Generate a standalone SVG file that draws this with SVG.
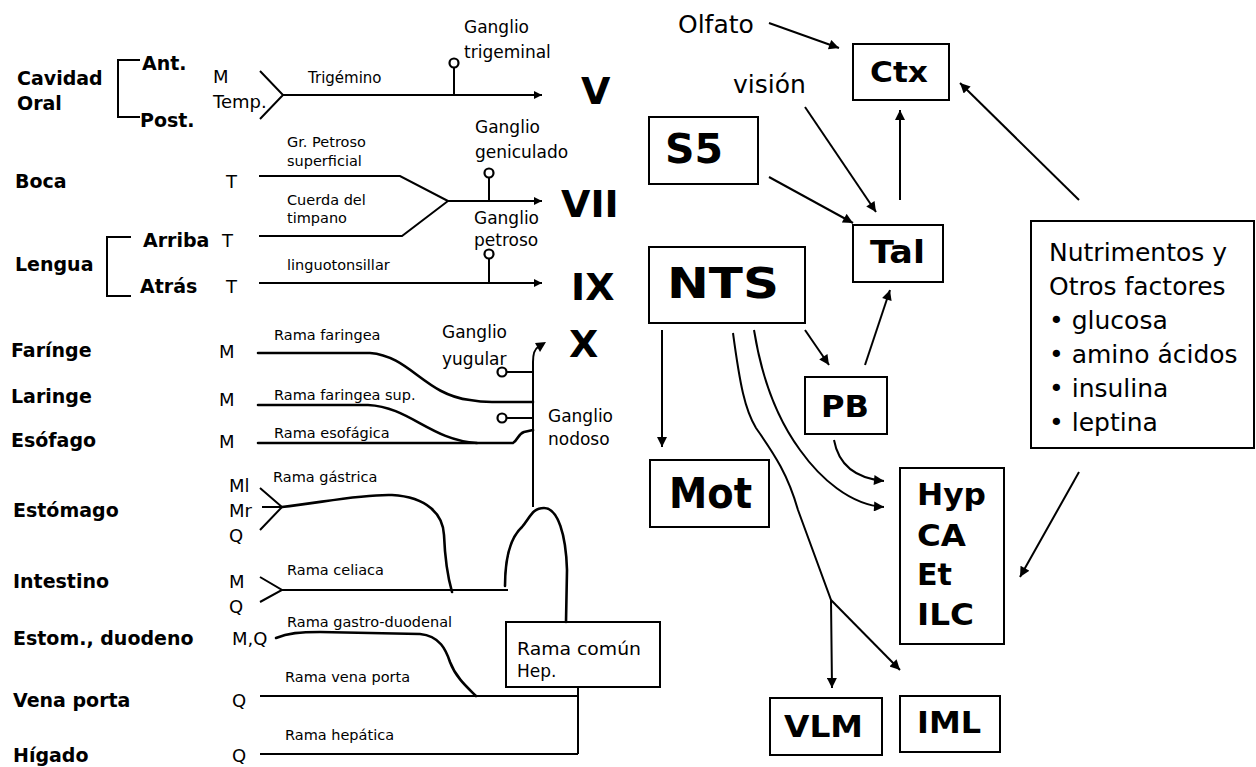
<svg xmlns="http://www.w3.org/2000/svg" width="1256" height="767" viewBox="0 0 1256 767">
  <style>
    text { font-family: "DejaVu Sans", "Liberation Sans", sans-serif; fill: #000; }
    .org { font-size: 19px; font-weight: bold; }
    .fib { font-size: 18px; }
    .br { font-size: 14.5px; }
    .gg { font-size: 17px; }
    .rn { font-size: 38px; font-weight: bold; }
    .bx { font-size: 30px; font-weight: bold; }
    .pl { font-size: 25px; }
    .ln { fill: none; stroke: #000; stroke-width: 2; }
    .hand { fill: none; stroke: #000; stroke-width: 2.6; stroke-linecap: round; stroke-linejoin: round; }
    .box { fill: #fff; stroke: #000; stroke-width: 2; }
    .gc { fill: #fff; stroke: #000; stroke-width: 2.2; }
    .nerve { marker-end: url(#tipS); }
    .path { marker-end: url(#tipL); }
  </style>
  <defs>
    <marker id="tipS" viewBox="0 0 10 10" refX="10" refY="5" markerWidth="9" markerHeight="8" markerUnits="userSpaceOnUse" orient="auto">
      <path d="M0,0 L10,5 L0,10 z" fill="#000"/>
    </marker>
    <marker id="tipL" viewBox="0 0 10 10" refX="10" refY="5" markerWidth="12" markerHeight="10" markerUnits="userSpaceOnUse" orient="auto">
      <path d="M0,0 L10,5 L0,10 z" fill="#000"/>
    </marker>
  </defs>
  <rect width="1256" height="767" fill="#fff"/>

  <!-- Organ rows (left) -->
  <g id="cavidad-oral">
    <text class="org" x="17" y="85">Cavidad</text>
    <text class="org" x="17" y="110">Oral</text>
    <path class="ln" d="M140,60 H118 V117 H140"/>
    <text class="org" x="142" y="70">Ant.</text>
    <text class="org" x="140" y="127">Post.</text>
    <text class="fib" x="213" y="83">M</text>
    <text class="fib" x="213" y="108">Temp.</text>
  </g>
  <g id="boca">
    <text class="org" x="15" y="188">Boca</text>
    <text class="fib" x="226" y="188">T</text>
  </g>
  <g id="lengua">
    <text class="org" x="15" y="271">Lengua</text>
    <path class="ln" d="M131,237 H107 V296 H131"/>
    <text class="org" x="143" y="247">Arriba</text>
    <text class="org" x="140" y="293">Atrás</text>
    <text class="fib" x="222" y="247">T</text>
    <text class="fib" x="226" y="293">T</text>
  </g>
  <g id="faringe">
    <text class="org" x="11" y="357">Farínge</text>
    <text class="fib" x="219" y="358">M</text>
  </g>
  <g id="laringe">
    <text class="org" x="11" y="403">Laringe</text>
    <text class="fib" x="219" y="406">M</text>
  </g>
  <g id="esofago">
    <text class="org" x="11" y="447">Esófago</text>
    <text class="fib" x="219" y="448">M</text>
  </g>
  <g id="estomago">
    <text class="org" x="13" y="517">Estómago</text>
    <text class="fib" x="229" y="492">Ml</text>
    <text class="fib" x="229" y="517">Mr</text>
    <text class="fib" x="229" y="542">Q</text>
  </g>
  <g id="intestino">
    <text class="org" x="13" y="588">Intestino</text>
    <text class="fib" x="229" y="588">M</text>
    <text class="fib" x="229" y="613">Q</text>
  </g>
  <g id="estom-duodeno">
    <text class="org" x="13" y="645">Estom., duodeno</text>
    <text class="fib" x="232" y="645">M,Q</text>
  </g>
  <g id="vena-porta">
    <text class="org" x="13" y="707">Vena porta</text>
    <text class="fib" x="232" y="707">Q</text>
  </g>
  <g id="higado">
    <text class="org" x="13" y="762">Hígado</text>
    <text class="fib" x="232" y="762">Q</text>
  </g>

  <!-- Cranial nerve targets -->
  <g id="nervio-V"><text class="rn" x="581" y="104">V</text></g>
  <g id="nervio-VII"><text class="rn" x="561" y="217">VII</text></g>
  <g id="nervio-IX"><text class="rn" x="571" y="300">IX</text></g>
  <g id="nervio-X"><text class="rn" x="569" y="357">X</text></g>

  <!-- Branch labels -->
  <g id="ramas">
    <text class="br" x="308" y="83" style="font-size:15px">Trigémino</text>
    <text class="br" x="287" y="147">Gr. Petroso</text>
    <text class="br" x="287" y="166">superficial</text>
    <text class="br" x="287" y="205">Cuerda del</text>
    <text class="br" x="287" y="223">timpano</text>
    <text class="br" x="287" y="270">linguotonsillar</text>
    <text class="br" x="274" y="340">Rama faringea</text>
    <text class="br" x="274" y="400">Rama faringea sup.</text>
    <text class="br" x="274" y="438">Rama esofágica</text>
    <text class="br" x="273" y="482">Rama gástrica</text>
    <text class="br" x="287" y="575">Rama celiaca</text>
    <text class="br" x="287" y="627">Rama gastro-duodenal</text>
    <text class="br" x="285" y="682">Rama vena porta</text>
    <text class="br" x="285" y="740">Rama hepática</text>
  </g>

  <!-- Ganglia -->
  <g id="ganglio-trigeminal">
    <text class="gg" x="464" y="33">Ganglio</text>
    <text class="gg" x="464" y="58">trigeminal</text>
    <path class="ln" d="M454,94 V68"/>
    <circle class="gc" cx="454" cy="63" r="4.5"/>
  </g>
  <g id="ganglio-geniculado">
    <text class="gg" x="475" y="133">Ganglio</text>
    <text class="gg" x="475" y="158">geniculado</text>
    <path class="ln" d="M489,201 V178"/>
    <circle class="gc" cx="489" cy="173" r="4.5"/>
  </g>
  <g id="ganglio-petroso">
    <text class="gg" x="474" y="224">Ganglio</text>
    <text class="gg" x="474" y="246">petroso</text>
    <path class="ln" d="M489,283 V259"/>
    <circle class="gc" cx="489" cy="254" r="4.5"/>
  </g>
  <g id="ganglio-yugular">
    <text class="gg" x="442" y="338">Ganglio</text>
    <text class="gg" x="442" y="365">yugular</text>
    <path class="ln" d="M507,372 H533"/>
    <circle class="gc" cx="502" cy="372" r="4.5"/>
  </g>
  <g id="ganglio-nodoso">
    <text class="gg" x="548" y="422">Ganglio</text>
    <text class="gg" x="548" y="445">nodoso</text>
    <path class="ln" d="M507,418 H533"/>
    <circle class="gc" cx="502" cy="418" r="4.5"/>
  </g>
  <g id="rama-comun-hep">
    <rect class="box" x="506" y="622" width="154" height="65"/>
    <text x="517" y="655" style="font-size:17px" textLength="124" lengthAdjust="spacingAndGlyphs">Rama común</text>
    <text x="517" y="677" style="font-size:17px">Hep.</text>
  </g>

  <!-- Central nodes (right) -->
  <g id="olfato"><text class="pl" x="678" y="33">Olfato</text></g>
  <g id="vision"><text class="pl" x="733" y="93">visión</text></g>
  <g id="ctx">
    <rect class="box" x="853" y="44" width="96" height="56"/>
    <text class="bx" x="870" y="82" style="font-size:28px" textLength="58" lengthAdjust="spacingAndGlyphs">Ctx</text>
  </g>
  <g id="s5">
    <rect class="box" x="649" y="117" width="109" height="67"/>
    <text class="bx" x="665" y="163" style="font-size:41px" textLength="58" lengthAdjust="spacingAndGlyphs">S5</text>
  </g>
  <g id="tal">
    <rect class="box" x="853" y="225" width="90" height="57"/>
    <text class="bx" x="870" y="263" style="font-size:32px" textLength="55" lengthAdjust="spacingAndGlyphs">Tal</text>
  </g>
  <g id="nts">
    <rect class="box" x="649" y="247" width="156" height="76"/>
    <text class="bx" x="667" y="298" style="font-size:43px" textLength="112" lengthAdjust="spacingAndGlyphs">NTS</text>
  </g>
  <g id="nutrimentos">
    <rect class="box" x="1031" y="221" width="223" height="227"/>
    <text class="pl" x="1049" y="261">Nutrimentos y</text>
    <text class="pl" x="1049" y="295">Otros factores</text>
    <text class="pl" x="1049" y="329">• glucosa</text>
    <text class="pl" x="1049" y="363">• amino ácidos</text>
    <text class="pl" x="1049" y="397">• insulina</text>
    <text class="pl" x="1049" y="431">• leptina</text>
  </g>
  <g id="pb">
    <rect class="box" x="805" y="377" width="82" height="57"/>
    <text class="bx" x="821" y="417" textLength="48" lengthAdjust="spacingAndGlyphs">PB</text>
  </g>
  <g id="mot">
    <rect class="box" x="650" y="460" width="119" height="67"/>
    <text class="bx" x="669" y="508" style="font-size:42px" textLength="83" lengthAdjust="spacingAndGlyphs">Mot</text>
  </g>
  <g id="hyp">
    <rect class="box" x="900" y="468" width="104" height="176"/>
    <text class="bx" x="917" y="505" textLength="69" lengthAdjust="spacingAndGlyphs">Hyp</text>
    <text class="bx" x="917" y="546" textLength="49" lengthAdjust="spacingAndGlyphs">CA</text>
    <text class="bx" x="917" y="585" textLength="35" lengthAdjust="spacingAndGlyphs">Et</text>
    <text class="bx" x="917" y="625" textLength="57" lengthAdjust="spacingAndGlyphs">ILC</text>
  </g>
  <g id="vlm">
    <rect class="box" x="770" y="698" width="112" height="57"/>
    <text class="bx" x="784" y="737" textLength="79" lengthAdjust="spacingAndGlyphs">VLM</text>
  </g>
  <g id="iml">
    <rect class="box" x="900" y="696" width="100" height="56"/>
    <text class="bx" x="917" y="733" textLength="64" lengthAdjust="spacingAndGlyphs">IML</text>
  </g>

  <!-- Connectors -->
  <g id="connectors">
    <!-- trigeminal -->
    <path class="ln" d="M260,71 L283,95 L260,119"/>
    <path class="ln nerve" d="M283,95 H542"/>
    <!-- facial -->
    <path class="ln" d="M259,176 H400 L448,201 L402,236 H259"/>
    <path class="ln nerve" d="M448,201 H542"/>
    <!-- glossopharyngeal -->
    <path class="ln nerve" d="M259,283 H542"/>
    <!-- vagus trunk -->
    <path class="ln" d="M533,507 V362 Q533,350 538,347"/>
    <path d="M546,342 L535,343 L540,352 z" fill="#000"/>
    <path class="hand" d="M258,353 H370 C410,356 425,395 470,400 C480,402 488,402 492,402 H533"/>
    <path class="hand" d="M258,405 H368 C410,407 430,440 477,443"/>
    <path class="hand" d="M258,443 H513 C518,440 518,434 524,432 L533,430"/>
    <!-- gastric -->
    <path class="ln" d="M260,488 L282,507 L260,530 M262,507 H282"/>
    <path class="hand" d="M282,507 C320,503 360,494 392,495 C428,497 443,515 444,535 C445,560 448,578 452,592"/>
    <!-- celiac -->
    <path class="ln" d="M260,577 L282,590 L260,602"/>
    <path class="ln" d="M282,590 H508"/>
    <path class="hand" d="M505,586 C505,560 510,538 522,527 C530,518 532,508 544,508 C558,508 566,535 567,570 L566,622"/>
    <!-- gastro-duodenal -->
    <path class="hand" d="M276,638 C288,633 300,632 320,632 L420,634 C440,636 446,650 450,662 C456,678 468,688 476,696"/>
    <!-- portal / hepatic -->
    <path class="ln" d="M260,696 H578 M578,687 V754 M260,754 H578"/>

    <!-- central pathways -->
    <path class="ln path" d="M769,23 L839,48"/>
    <path class="ln path" d="M805,107 L876,212"/>
    <path class="ln path" d="M769,177 L853,223"/>
    <path class="ln path" d="M900,200 V110"/>
    <path class="ln path" d="M1079,200 L960,83"/>
    <path class="ln path" d="M662,330 V447"/>
    <path class="ln path" d="M805,330 L829,365"/>
    <path class="ln path" d="M865,365 L890,290"/>
    <path class="ln path" d="M834,440 C838,462 852,478 884,481"/>
    <path class="ln path" d="M754,330 C762,380 778,420 800,450 C820,478 850,505 884,507"/>
    <path class="ln path" d="M733,333 C740,385 745,410 756,428 C775,455 788,475 798,510 L831,600 L832,688"/>
    <path class="ln path" d="M831,600 L900,670"/>
    <path class="ln path" d="M1079,472 L1020,577"/>
  </g>
</svg>
